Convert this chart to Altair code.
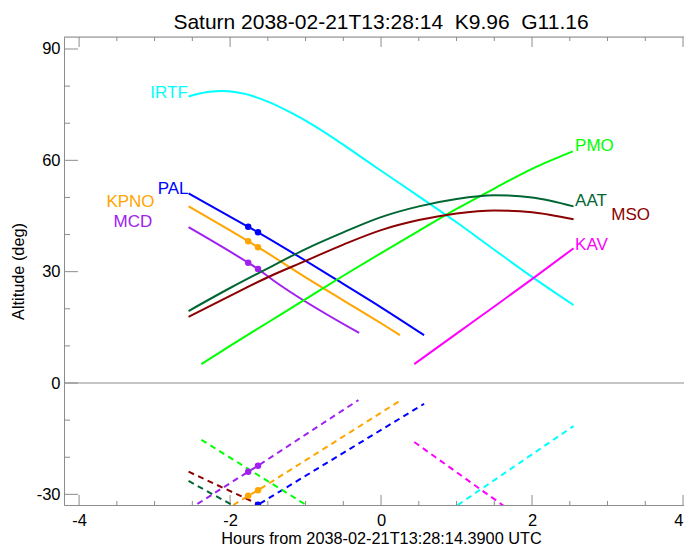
import altair as alt
import pandas as pd

FONT = "Liberation Sans"
GRAY = "#8c8c8c"

SITES = ["IRTF", "PAL", "KPNO", "MCD", "PMO", "AAT", "MSO", "KAV"]
COLORS = ["#00ffff", "#0000ff", "#ffa500", "#a020f0", "#00ff00", "#006633", "#8b0000", "#ff00ff"]

# Target altitude (solid) per site: hours, degrees
IRTF_X = [-2.55, -2.3, -2.1, -1.8, -1.5, -1.2, -0.9, -0.6, -0.3, 0.0, 0.5, 1.0, 1.5, 2.0, 2.55]
IRTF_ALT = [77.2, 78.4, 78.7, 77.9, 75.8, 72.9, 69.5, 65.6, 61.4, 57.2, 50.3, 43.3, 35.9, 28.6, 21.0]
PAL_X = [-2.55, -1.76, -1.63, -0.58, 0.0, 0.57]
PAL_ALT = [51.1, 42.1, 40.6, 27.7, 20.4, 12.9]
KPNO_X = [-2.55, -1.76, -1.63, -0.94, 0.0, 0.25]
KPNO_ALT = [47.6, 38.2, 36.6, 27.7, 16.1, 12.9]
MCD_X = [-2.55, -1.76, -1.63, -1.43, -0.29]
MCD_ALT = [42.0, 32.4, 30.7, 27.7, 13.5]
PMO_X = [-2.38, -2.0, -1.5, -1.0, -0.5, 0.0, 0.5, 1.0, 1.5, 2.0, 2.54]
PMO_ALT = [5.1, 10.0, 16.3, 22.6, 28.9, 35.0, 41.0, 46.9, 52.4, 57.7, 62.4]
AAT_X = [-2.55, -2.0, -1.5, -1.0, -0.5, 0.0, 0.5, 1.0, 1.5, 2.0, 2.55]
AAT_ALT = [19.4, 25.6, 30.9, 36.1, 40.6, 44.7, 47.6, 49.6, 50.6, 50.0, 47.6]
MSO_X = [-2.55, -2.0, -1.5, -1.0, -0.5, 0.0, 0.5, 1.0, 1.5, 2.0, 2.55]
MSO_ALT = [17.8, 23.5, 28.5, 32.9, 37.3, 41.2, 43.9, 45.7, 46.5, 46.0, 44.1]
KAV_X = [0.44, 1.0, 1.5, 2.0, 2.55]
KAV_ALT = [5.1, 13.3, 20.6, 28.0, 36.3]

# Sun altitude (dashed) per site
SUN_IRTF_X = [0.9, 2.55]
SUN_IRTF_ALT = [-34.5, -11.6]
SUN_PAL_X = [-2.55, -1.76, -1.63, 0.57]
SUN_PAL_ALT = [-44.5, -34.4, -32.8, -5.6]
SUN_KPNO_X = [-2.55, -1.76, -1.63, 0.25]
SUN_KPNO_ALT = [-40.3, -30.4, -28.9, -4.8]
SUN_MCD_X = [-2.55, -1.76, -1.63, -0.30]
SUN_MCD_ALT = [-34.1, -23.9, -22.3, -4.6]
SUN_PMO_X = [-2.38, -0.8]
SUN_PMO_ALT = [-15.3, -35.3]
SUN_AAT_X = [-2.55, -1.8]
SUN_AAT_ALT = [-26.4, -34.8]
SUN_MSO_X = [-2.55, -1.4]
SUN_MSO_ALT = [-23.9, -34.8]
SUN_KAV_X = [0.44, 1.7]
SUN_KAV_ALT = [-15.9, -34.2]

# Markers
DOT_SITE = ["PAL", "PAL", "PAL", "PAL", "KPNO", "KPNO", "KPNO", "KPNO", "MCD", "MCD", "MCD", "MCD"]
DOT_X = [-1.76, -1.63, -1.76, -1.63, -1.76, -1.63, -1.76, -1.63, -1.76, -1.63, -1.76, -1.63]
DOT_ALT = [42.1, 40.6, -34.4, -32.8, 38.2, 36.6, -30.4, -28.9, 32.4, 30.7, -23.9, -22.3]

# Site labels
LEFT_LABELS = ["IRTF", "PAL", "KPNO", "MCD"]
LEFT_LX = [-2.56, -2.55, -3.0, -3.03]
LEFT_LY = [76.9, 50.8, 47.3, 42.0]
RIGHT_LABELS = ["PMO", "AAT", "MSO", "KAV"]
RIGHT_LX = [2.57, 2.57, 3.05, 2.57]
RIGHT_LY = [62.4, 47.6, 44.0, 35.8]

XT_MAJOR = [-4, -2, 0, 2, 4]
XT_MINOR = [-3.5, -3.0, -2.5, -1.5, -1.0, -0.5, 0.5, 1.0, 1.5, 2.5, 3.0, 3.5]
YT_MAJOR = [-30, 0, 30, 60, 90]
YT_MINOR = [-20, -10, 10, 20, 40, 50, 70, 80]

TITLE = "Saturn 2038-02-21T13:28:14\u00a0\u00a0K9.96\u00a0\u00a0G11.16"
XTITLE = "Hours from 2038-02-21T13:28:14.3900 UTC"
YTITLE = "Altitude (deg)"

W, H = 620, 468

def frame(xs_list, alts_list, names):
    rows = []
    for name, xs, al in zip(names, xs_list, alts_list):
        for i, (x, a) in enumerate(zip(xs, al)):
            rows.append({"site": name, "x": x, "alt": a, "i": i})
    return pd.DataFrame(rows)

solid = frame([IRTF_X, PAL_X, KPNO_X, MCD_X, PMO_X, AAT_X, MSO_X, KAV_X],
              [IRTF_ALT, PAL_ALT, KPNO_ALT, MCD_ALT, PMO_ALT, AAT_ALT, MSO_ALT, KAV_ALT], SITES)
sun = frame([SUN_IRTF_X, SUN_PAL_X, SUN_KPNO_X, SUN_MCD_X, SUN_PMO_X, SUN_AAT_X, SUN_MSO_X, SUN_KAV_X],
            [SUN_IRTF_ALT, SUN_PAL_ALT, SUN_KPNO_ALT, SUN_MCD_ALT, SUN_PMO_ALT, SUN_AAT_ALT, SUN_MSO_ALT, SUN_KAV_ALT], SITES)
dots = pd.DataFrame({"site": DOT_SITE, "x": DOT_X, "alt": DOT_ALT})
lab_l = pd.DataFrame({"site": LEFT_LABELS, "x": LEFT_LX, "alt": LEFT_LY})
lab_r = pd.DataFrame({"site": RIGHT_LABELS, "x": RIGHT_LX, "alt": RIGHT_LY})

xs = alt.Scale(domain=[-4.2, 4.013], nice=False, zero=False)
ys = alt.Scale(domain=[-32.87, 93.23], nice=False, zero=False)
cs = alt.Scale(domain=SITES, range=COLORS)

xaxis = alt.Axis(values=XT_MAJOR, labelExpr="'' + datum.value", ticks=False, tickSize=0, grid=False,
                 domain=True, domainColor=GRAY, domainWidth=1, labelFont=FONT, labelFontSize=16.5,
                 labelColor="black", labelPadding=7, title=XTITLE, titleFont=FONT, titleFontSize=16.3,
                 titleFontWeight="normal", titleColor="black", titleX=317, titleY=38,
                 titleAlign="center", titleBaseline="alphabetic")
yaxis = alt.Axis(values=YT_MAJOR, labelExpr="'' + datum.value", ticks=False, tickSize=0, grid=False,
                 domain=True, domainColor=GRAY, domainWidth=1, labelFont=FONT, labelFontSize=16.5,
                 labelColor="black", labelPadding=4, title=YTITLE, titleFont=FONT, titleFontSize=16.3,
                 titleFontWeight="normal", titleColor="black", titleX=-46, titleY=234, titleAngle=270,
                 titleAlign="center", titleBaseline="middle")

def X(field):
    return alt.X(field, scale=xs, axis=xaxis)

def Y(field):
    return alt.Y(field, scale=ys, axis=yaxis)

col = alt.Color("site:N", scale=cs, legend=None)

zero_line = alt.Chart(pd.DataFrame({"v": [0]})).mark_rule(color=GRAY, strokeWidth=1).encode(
    y=Y("v:Q"), x=alt.value(0), x2=alt.value(W))
top_line = alt.Chart(pd.DataFrame({"v": [0]})).mark_rule(color=GRAY, strokeWidth=1).encode(
    x=alt.value(0), x2=alt.value(W), y=alt.value(0))

def xticks(vals, length):
    d = pd.DataFrame({"v": vals})
    b = alt.Chart(d).mark_rule(color=GRAY, strokeWidth=1).encode(
        x=X("v:Q"), y=alt.value(H), y2=alt.value(H - length))
    t = alt.Chart(d).mark_rule(color=GRAY, strokeWidth=1).encode(
        x=X("v:Q"), y=alt.value(0), y2=alt.value(length))
    return [b, t]

def yticks(vals, length):
    d = pd.DataFrame({"v": vals})
    l = alt.Chart(d).mark_rule(color=GRAY, strokeWidth=1).encode(
        y=Y("v:Q"), x=alt.value(0), x2=alt.value(length))
    return [l]

solid_layer = alt.Chart(solid).mark_line(strokeWidth=2, clip=True, interpolate="monotone").encode(
    x=X("x:Q"), y=Y("alt:Q"), color=col, detail="site:N", order="i:Q")
sun_layer = alt.Chart(sun).mark_line(strokeWidth=2, strokeDash=[6, 4.5], clip=True).encode(
    x=X("x:Q"), y=Y("alt:Q"), color=col, detail="site:N", order="i:Q")
dot_layer = alt.Chart(dots).mark_circle(size=42, opacity=1, clip=True).encode(
    x=X("x:Q"), y=Y("alt:Q"), color=col)
lab_left = alt.Chart(lab_l).mark_text(align="right", baseline="alphabetic", font=FONT, fontSize=17).encode(
    x=X("x:Q"), y=Y("alt:Q"), color=col, text="site:N")
lab_right = alt.Chart(lab_r).mark_text(align="left", baseline="alphabetic", font=FONT, fontSize=17).encode(
    x=X("x:Q"), y=Y("alt:Q"), color=col, text="site:N")

layers = [zero_line, top_line] + xticks(XT_MAJOR, 10) + xticks(XT_MINOR, 4) \
    + yticks(YT_MAJOR, 14) + yticks(YT_MINOR, 6) \
    + [solid_layer, sun_layer, dot_layer, lab_left, lab_right]

chart = alt.layer(*layers).properties(
    width=W, height=H,
    title=alt.TitleParams(text=TITLE, font=FONT, fontSize=21, fontWeight="normal", color="black",
                          anchor="middle", dx=7, offset=4),
    autosize=alt.AutoSizeParams(type="none"),
    padding={"left": 56, "top": 29, "right": 0, "bottom": 40},
).configure_view(stroke=None).configure(background="white")

chart.save("out.html", embed_options={"renderer": "svg", "actions": False})
